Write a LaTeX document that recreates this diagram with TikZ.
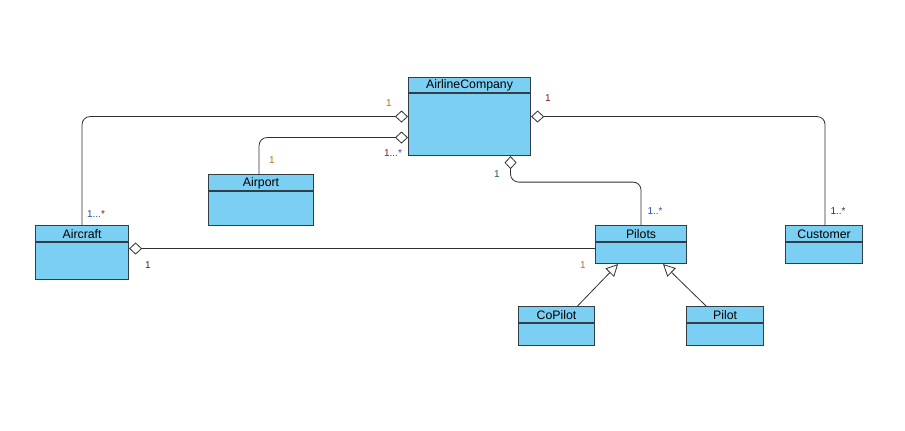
\documentclass[tikz,border=0pt]{standalone}
\usepackage{fontspec}
\setmainfont{Liberation Sans}
\usetikzlibrary{arrows.meta,calc}
\definecolor{clsfill}{HTML}{7ACFF3}
\definecolor{clsdraw}{HTML}{333D45}
\definecolor{lnk}{HTML}{303030}
\definecolor{lorange}{HTML}{B07808}
\definecolor{lred}{HTML}{9A1010}
\definecolor{lblue}{HTML}{2050A0}
\definecolor{lteal}{HTML}{245A4A}
\begin{document}
\begin{tikzpicture}[x=1pt,y=-1pt,
  clsbox/.style={draw=clsdraw,fill=clsfill,line width=1.1pt,anchor=north west,inner sep=0pt},
  clstitle/.style={font=\fontsize{12.3}{12}\selectfont,text=black,anchor=center,inner sep=0pt},
  conn/.style={draw=lnk,line width=0.8pt,rounded corners=8pt},
  agg/.style={conn,{Diamond[fill=white,length=13pt,width=12pt,line width=0.8pt]}-},
  gen/.style={conn,-{Triangle[fill=white,length=12pt,width=12pt,line width=0.8pt]}},
  mult/.style={font=\fontsize{10}{10}\selectfont,inner sep=0pt,anchor=center}]
\useasboundingbox (0,0) rectangle (905,431);

% class boxes: name, x, y, width, height, separator offset, title
\newcommand{\umlclass}[7]{%
  \node[clsbox,minimum width=#4pt,minimum height=#5pt] (#1) at (#2,#3) {};
  \draw[clsdraw,line width=1.1pt] ($(#1.north west)+(0,#6)$) -- ($(#1.north east)+(0,#6)$);
  \node[clstitle] (#1-t) at ($(#1.north)+(0,#6/2+0.5)$) {#7};
}
\umlclass{ac}{408}{77}{122}{78}{16}{AirlineCompany}
\umlclass{ap}{208}{174}{105}{51}{17}{Airport}
\umlclass{acft}{35}{225}{93}{54}{17}{Aircraft}
\umlclass{pil}{595}{225}{91}{38}{17}{Pilots}
\umlclass{cust}{785}{225}{77}{38}{17}{Customer}
\umlclass{cop}{518}{306}{76}{39}{17}{CoPilot}
\umlclass{plt}{686}{306}{77}{39}{17}{Pilot}

% associations
\draw[agg] (ac.west) -| (acft.north);
\draw[agg] ([yshift=-21pt]ac.west) -| ([xshift=-2pt]ap.north);
\draw[agg] (ac.east) -| ([xshift=1pt]cust.north);
\draw[agg] ([xshift=41pt]ac.south) -- ++(0,26) -| (pil.north);
\draw[agg] ([yshift=4pt]acft.east) -- ([yshift=-4pt]pil.west);

% generalizations
\draw[gen] ([xshift=21pt]cop.north) -- ([xshift=-23pt]pil.south);
\draw[gen] ([xshift=-19pt]plt.north) -- ([xshift=22pt]pil.south);

% multiplicities
\node[mult,text=lorange] (m1) at (389,103) {1};
\node[mult,text=lred] (m2) at (393,153) {1...{\color{lblue}*}};
\node[mult,text=lred] (m3) at (548,98) {1};
\node[mult,text=lteal] (m4) at (497,174) {1};
\node[mult,text=lblue] (m5) at (655,211) {1..*};
\node[mult,text=lblue] (m6) at (96,214) {1...{\color{lred}*}};
\node[mult,text=lorange] (m7) at (272,160) {1};
\node[mult,text=lnk] (m8) at (148,265) {1};
\node[mult,text=lorange] (m9) at (583,265) {1};
\node[mult,text=lnk] (m10) at (838,211) {1..*};
\end{tikzpicture}
\end{document}
